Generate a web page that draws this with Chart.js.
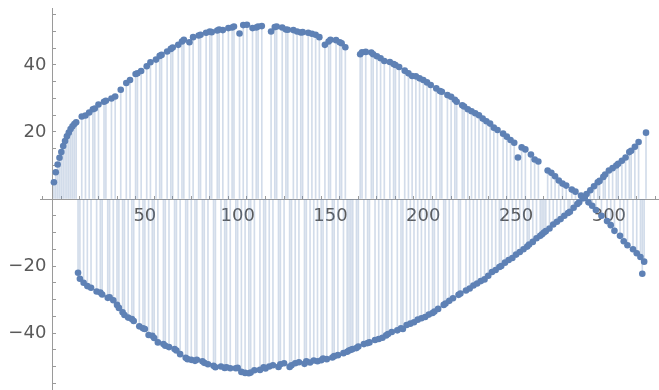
<!DOCTYPE html>
<html>
<head>
<meta charset="utf-8">
<script src="https://cdn.jsdelivr.net/npm/chart.js@4"></script>
<style>
  html, body { margin: 0; padding: 0; background: #ffffff; }
  #wrap { width: 659px; height: 390px; position: relative; }
</style>
</head>
<body>
<div id="wrap"><canvas id="c"></canvas></div>
<script>
// Upper branch (x values and y values)
const upperX = [
  1,2,3,4,5,6,7,8,9,10,
  11,12,13,16,18,20,22,23,25,28,
  29,32,34,37,40,42,45,46,48,51,
  53,56,58,59,62,64,65,68,70,71,
  74,76,79,80,83,85,86,89,90,92,
  95,97,98,101,103,105,108,110,111,113,
  118,120,121,124,126,127,130,132,134,135,
  138,140,142,144,147,149,150,153,155,156,
  158,166,167,169,172,173,175,177,179,182,
  184,185,187,190,192,194,196,198,200,202,
  204,207,209,210,213,215,217,218,221,222,
  224,226,228,230,232,234,236,238,240,243,
  245,247,249,251,253,255,258,260,262,267,
  269,271,273,275,277,280,282,285,287,289,
  291,293,296,299,301,303,306,308,310,313,
  315,317,318,319
];
const upperY = [
  5.0,8.0,10.3,12.3,14.0,15.8,17.3,18.7,19.8,20.9,
  21.7,22.4,22.9,24.6,24.9,25.8,26.8,27.0,28.2,29.0,
  29.3,30.0,30.6,32.6,34.6,35.5,37.3,37.5,38.2,39.6,
  40.8,41.6,42.7,43.0,44.0,44.8,45.2,46.0,47.0,47.5,
  46.8,48.3,48.8,49.0,49.6,50.0,49.8,50.3,50.6,50.4,
  51.0,51.2,51.5,49.4,51.9,52.0,51.0,51.2,51.5,51.6,
  50.0,51.3,51.5,51.2,50.6,50.5,50.4,50.0,49.7,49.8,
  49.6,49.3,49.0,48.3,46.0,47.0,47.5,47.4,46.8,46.5,
  45.3,43.2,43.8,43.9,43.7,43.2,42.6,42.0,41.2,40.9,
  40.3,40.0,39.4,38.3,37.5,36.7,36.6,36.0,35.5,34.8,
  34.0,33.0,32.2,32.0,31.0,30.5,29.6,29.0,28.0,27.6,
  26.8,26.2,25.6,25.0,24.0,23.2,22.5,21.3,20.6,19.5,
  18.6,17.6,16.8,12.4,15.4,14.8,13.3,11.8,11.2,8.5,
  7.8,6.8,5.5,4.6,4.0,2.8,2.2,1.0,0.3,-1.0,
  -2.0,-3.3,-5.0,-6.6,-7.8,-9.5,-11.0,-12.6,-13.8,-15.0,
  -16.2,-17.3,-22.3,-18.7
];
// Lower branch
const lowerX = [
  14,15,17,19,21,24,26,27,30,31,
  33,35,36,38,39,41,43,44,47,49,
  50,52,54,55,57,60,61,63,66,67,
  69,72,73,75,77,78,81,82,84,87,
  88,91,93,94,96,99,100,102,104,106,
  107,109,112,114,115,117,119,122,123,125,
  128,129,131,133,136,137,139,141,143,145,
  146,148,151,152,154,157,159,160,161,162,
  164,165,168,170,171,174,176,178,180,181,
  183,186,188,189,191,193,195,197,199,201,
  203,205,206,208,211,212,214,216,219,220,
  223,225,227,229,231,233,235,237,239,241,
  242,244,246,248,250,252,254,256,257,259,
  261,263,264,265,266,268,270,272,274,276,
  278,279,281,283,284,286,288,290,292,294,
  295,297,298,300,302,304,305,307,309,311,
  312,314,316,320
];
const lowerY = [
  -22.0,-23.8,-25.0,-26.0,-26.5,-27.6,-27.9,-28.5,-29.5,-29.3,
  -30.2,-31.6,-32.5,-33.8,-34.6,-35.4,-35.8,-36.4,-38.0,-38.6,
  -38.8,-40.6,-40.8,-41.5,-42.8,-43.3,-43.8,-44.2,-44.8,-45.2,
  -46.3,-47.4,-47.8,-48.0,-48.3,-48.0,-48.4,-48.9,-49.3,-49.8,
  -50.2,-50.0,-50.4,-50.2,-50.5,-50.5,-50.4,-51.6,-51.9,-52.0,
  -51.8,-51.1,-51.0,-50.2,-50.6,-50.0,-49.6,-50.1,-49.3,-49.0,
  -50.1,-49.6,-49.0,-48.7,-49.2,-48.4,-48.8,-48.2,-48.4,-48.1,
  -47.6,-47.8,-47.3,-46.9,-46.6,-46.0,-45.6,-45.2,-45.0,-44.8,
  -44.5,-44.0,-43.3,-43.0,-42.8,-42.1,-41.8,-41.4,-40.7,-40.3,
  -39.7,-39.2,-38.6,-38.8,-37.6,-37.2,-36.8,-36.0,-35.6,-35.2,
  -34.5,-34.0,-33.6,-32.8,-31.6,-31.2,-30.4,-29.6,-28.6,-28.2,
  -27.3,-26.7,-25.8,-25.2,-24.5,-24.0,-22.9,-21.8,-21.2,-20.3,
  -20.0,-19.0,-18.2,-17.6,-16.6,-15.8,-15.0,-14.2,-13.6,-12.8,
  -11.7,-11.0,-10.5,-10.0,-9.6,-8.8,-7.6,-6.8,-6.0,-5.0,
  -4.2,-3.8,-2.6,-1.5,-1.0,0.2,1.5,2.6,3.8,5.0,
  5.4,6.6,7.3,8.5,9.2,10.0,10.5,11.4,12.4,14.0,
  14.4,15.6,17.0,19.8
];
// Tick marks and tick labels
const xTickValues = [0,10,20,30,40,50,60,70,80,90,100,110,120,130,140,150,160,170,180,190,200,210,220,230,240,250,260,270,280,290,300,310,320];
const yTickValues = [-55,-50,-45,-40,-35,-30,-25,-20,-15,-10,-5,0,5,10,15,20,25,30,35,40,45,50,55];
const xLabelTicks = [50, 100, 150, 200, 250, 300];
const yLabelTicks = [-40, -20, 20, 40];

const toPts = (xs, ys) => xs.map((x, i) => ({ x: x, y: ys[i] }));
const upperPts = toPts(upperX, upperY);
const lowerPts = toPts(lowerX, lowerY);

const pointColor = '#5E81B5';
const stemColor = 'rgba(94,129,181,0.28)';
const axisColor = '#9a9a9a';
const labelColor = '#5a5a5a';
const fontFamily = '"DejaVu Sans", "Liberation Sans", sans-serif';

const fmt = v => v < 0 ? '\u2212' + (-v) : String(v);
const zeroPad = s => { s.paddingTop = 0; s.paddingBottom = 0; s.paddingLeft = 0; s.paddingRight = 0; };

new Chart(document.getElementById('c'), {
  type: 'scatter',
  data: {
    datasets: [
      { type: 'scatter', data: upperPts, backgroundColor: pointColor, borderWidth: 0, pointRadius: 3.3, order: 0 },
      { type: 'scatter', data: lowerPts, backgroundColor: pointColor, borderWidth: 0, pointRadius: 3.3, order: 0 },
      { type: 'bar', data: upperPts, backgroundColor: stemColor, borderWidth: 0, barThickness: 1, grouped: false, order: 1 },
      { type: 'bar', data: lowerPts, backgroundColor: stemColor, borderWidth: 0, barThickness: 1, grouped: false, order: 1 }
    ]
  },
  options: {
    responsive: true,
    maintainAspectRatio: false,
    animation: false,
    layout: { autoPadding: false, padding: { left: 40, top: 8, right: 0, bottom: 0 } },
    plugins: { legend: { display: false }, tooltip: { enabled: false } },
    scales: {
      x: {
        type: 'linear',
        position: { y: 0 },
        min: -6.5,
        max: 327,
        bounds: 'data',
        offset: false,
        afterBuildTicks: s => { s.ticks = xTickValues.map(v => ({ value: v })); },
        afterFit: s => { s.height = 0; zeroPad(s); },
        border: { color: axisColor, width: 1 },
        grid: { drawOnChartArea: false, drawTicks: true, tickLength: -4, tickColor: axisColor, tickWidth: 1 },
        ticks: {
          autoSkip: false,
          maxRotation: 0,
          padding: 11,
          color: labelColor,
          font: { family: fontFamily, size: 18 },
          callback: v => xLabelTicks.includes(v) ? fmt(v) : ''
        }
      },
      y: {
        type: 'linear',
        position: { x: 0 },
        min: -57,
        max: 57,
        bounds: 'data',
        afterBuildTicks: s => { s.ticks = yTickValues.map(v => ({ value: v })); },
        afterFit: s => { s.width = 0; zeroPad(s); },
        border: { color: axisColor, width: 1 },
        grid: { drawOnChartArea: false, drawTicks: true, tickLength: -4, tickColor: axisColor, tickWidth: 1 },
        ticks: {
          autoSkip: false,
          padding: 6,
          color: labelColor,
          font: { family: fontFamily, size: 18 },
          callback: v => yLabelTicks.includes(v) ? fmt(v) + ' ' : ''
        }
      }
    }
  }
});
</script>
</body>
</html>
